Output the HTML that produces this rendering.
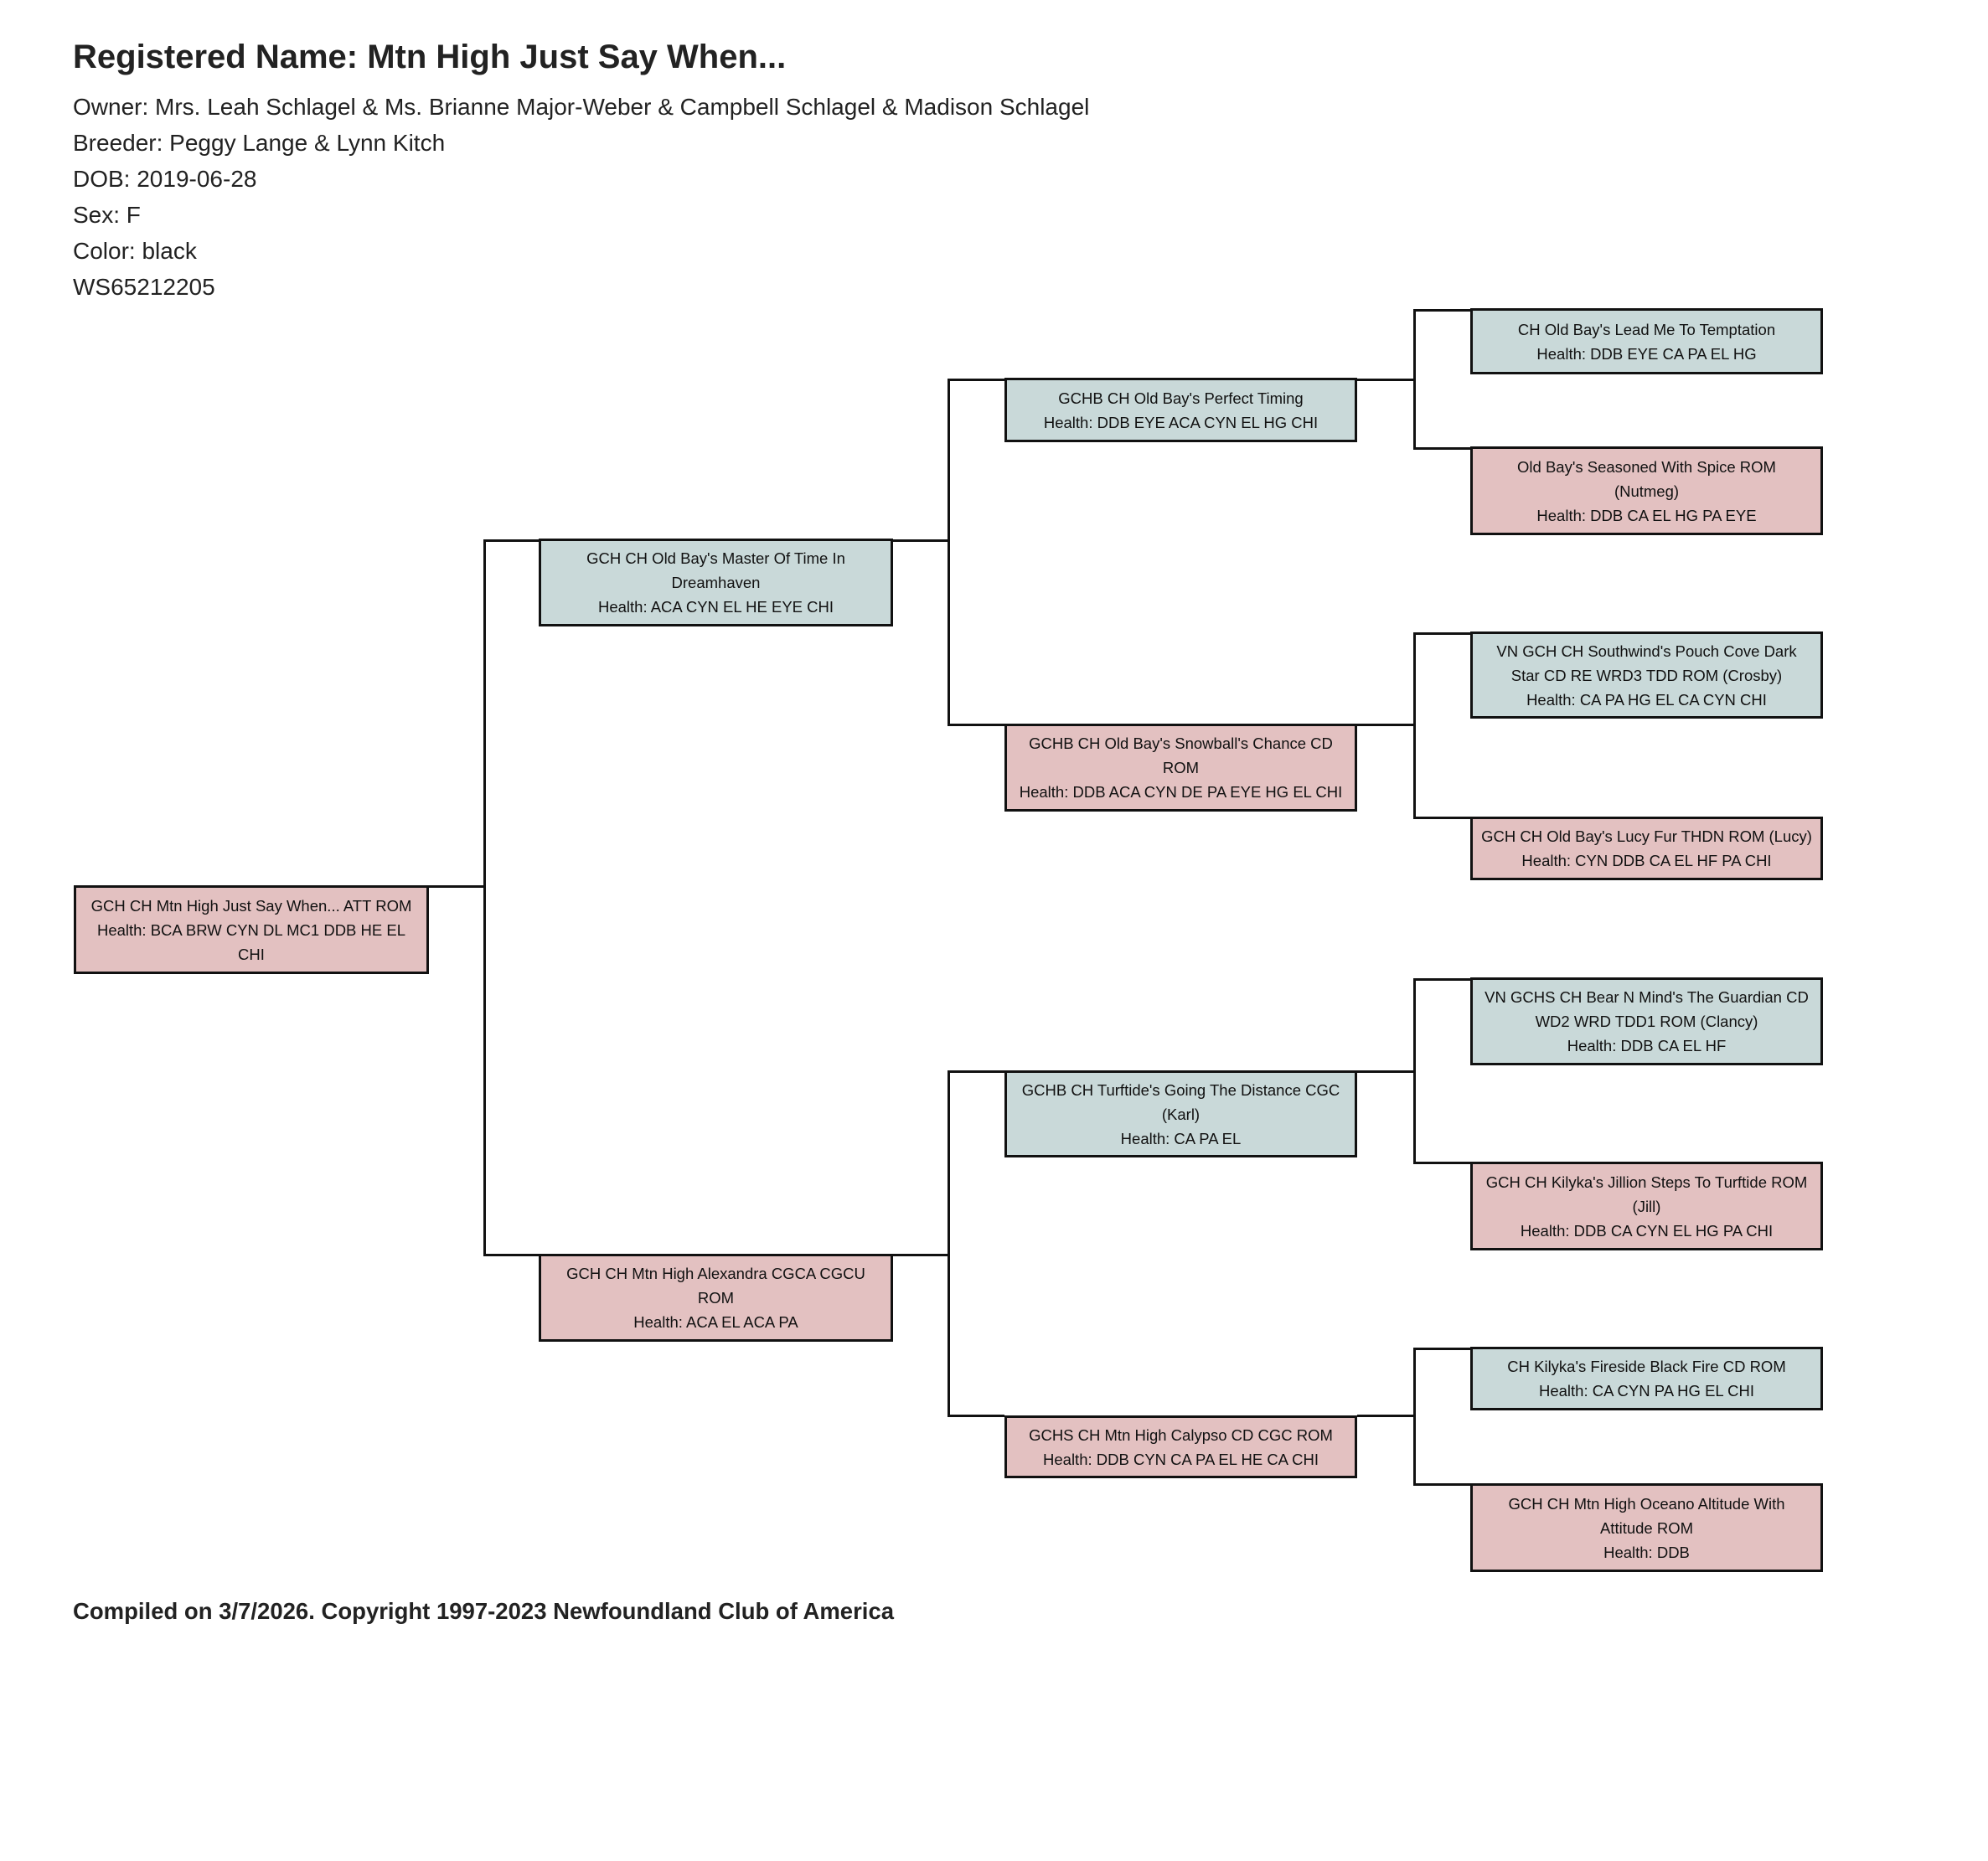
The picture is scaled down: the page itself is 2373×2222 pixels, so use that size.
<!DOCTYPE html>
<html><head><meta charset="utf-8"><style>
body{margin:0;width:2373px;height:2222px;background:#fff;position:relative;font-family:"Liberation Sans",sans-serif;color:#222;overflow:hidden}
.t{position:absolute;left:87px;white-space:nowrap}
.h{font-weight:bold;font-size:40px;top:46px}
.i{font-size:28px}
.b{position:absolute;box-sizing:border-box;border:3px solid #111;display:flex;align-items:center;justify-content:center;text-align:center;font-size:18.5px;line-height:29px;padding:0;white-space:nowrap;color:#111}
.m{background:#c9d9d9}.f{background:#e3c1c1}
.l{position:absolute;background:#111}
</style></head><body>
<div class="t h">Registered Name: Mtn High Just Say When...</div>
<div class="t i" style="top:112px">Owner: Mrs. Leah Schlagel &amp; Ms. Brianne Major-Weber &amp; Campbell Schlagel &amp; Madison Schlagel</div>
<div class="t i" style="top:155px">Breeder: Peggy Lange &amp; Lynn Kitch</div>
<div class="t i" style="top:198px">DOB: 2019-06-28</div>
<div class="t i" style="top:241px">Sex: F</div>
<div class="t i" style="top:284px">Color: black</div>
<div class="t i" style="top:327px">WS65212205</div>
<div class="t i" style="top:1908px;font-weight:bold;font-size:27.5px">Compiled on 3/7/2026. Copyright 1997-2023 Newfoundland Club of America</div>

<!-- connectors -->
<div class="l" style="left:512px;top:1057px;width:68px;height:3px"></div>
<div class="l" style="left:577px;top:644px;width:3px;height:855px"></div>
<div class="l" style="left:577px;top:644px;width:66px;height:3px"></div>
<div class="l" style="left:577px;top:1497px;width:66px;height:3px"></div>

<div class="l" style="left:1066px;top:644px;width:68px;height:3px"></div>
<div class="l" style="left:1066px;top:1497px;width:68px;height:3px"></div>
<div class="l" style="left:1131px;top:452px;width:3px;height:415px"></div>
<div class="l" style="left:1131px;top:1278px;width:3px;height:414px"></div>
<div class="l" style="left:1131px;top:452px;width:68px;height:3px"></div>
<div class="l" style="left:1131px;top:864px;width:68px;height:3px"></div>
<div class="l" style="left:1131px;top:1278px;width:68px;height:3px"></div>
<div class="l" style="left:1131px;top:1689px;width:68px;height:3px"></div>

<div class="l" style="left:1620px;top:452px;width:70px;height:3px"></div>
<div class="l" style="left:1620px;top:864px;width:70px;height:3px"></div>
<div class="l" style="left:1620px;top:1278px;width:70px;height:3px"></div>
<div class="l" style="left:1620px;top:1689px;width:70px;height:3px"></div>
<div class="l" style="left:1687px;top:369px;width:3px;height:168px"></div>
<div class="l" style="left:1687px;top:755px;width:3px;height:223px"></div>
<div class="l" style="left:1687px;top:1168px;width:3px;height:222px"></div>
<div class="l" style="left:1687px;top:1609px;width:3px;height:165px"></div>
<div class="l" style="left:1687px;top:369px;width:68px;height:3px"></div>
<div class="l" style="left:1687px;top:534px;width:68px;height:3px"></div>
<div class="l" style="left:1687px;top:755px;width:68px;height:3px"></div>
<div class="l" style="left:1687px;top:975px;width:68px;height:3px"></div>
<div class="l" style="left:1687px;top:1168px;width:68px;height:3px"></div>
<div class="l" style="left:1687px;top:1387px;width:68px;height:3px"></div>
<div class="l" style="left:1687px;top:1609px;width:68px;height:3px"></div>
<div class="l" style="left:1687px;top:1771px;width:68px;height:3px"></div>

<!-- boxes -->
<div class="b f" style="left:88px;top:1057px;width:424px;height:106px"><div>GCH CH Mtn High Just Say When... ATT ROM<br>Health: BCA BRW CYN DL MC1 DDB HE EL<br>CHI</div></div>

<div class="b m" style="left:643px;top:643px;width:423px;height:105px"><div>GCH CH Old Bay's Master Of Time In<br>Dreamhaven<br>Health: ACA CYN EL HE EYE CHI</div></div>
<div class="b f" style="left:643px;top:1497px;width:423px;height:105px"><div>GCH CH Mtn High Alexandra CGCA CGCU<br>ROM<br>Health: ACA EL ACA PA</div></div>

<div class="b m" style="left:1199px;top:451px;width:421px;height:77px"><div>GCHB CH Old Bay's Perfect Timing<br>Health: DDB EYE ACA CYN EL HG CHI</div></div>
<div class="b f" style="left:1199px;top:864px;width:421px;height:105px"><div>GCHB CH Old Bay's Snowball's Chance CD<br>ROM<br>Health: DDB ACA CYN DE PA EYE HG EL CHI</div></div>
<div class="b m" style="left:1199px;top:1278px;width:421px;height:104px"><div>GCHB CH Turftide's Going The Distance CGC<br>(Karl)<br>Health: CA PA EL</div></div>
<div class="b f" style="left:1199px;top:1690px;width:421px;height:75px"><div>GCHS CH Mtn High Calypso CD CGC ROM<br>Health: DDB CYN CA PA EL HE CA CHI</div></div>

<div class="b m" style="left:1755px;top:368px;width:421px;height:79px"><div>CH Old Bay's Lead Me To Temptation<br>Health: DDB EYE CA PA EL HG</div></div>
<div class="b f" style="left:1755px;top:533px;width:421px;height:106px"><div>Old Bay's Seasoned With Spice ROM<br>(Nutmeg)<br>Health: DDB CA EL HG PA EYE</div></div>
<div class="b m" style="left:1755px;top:754px;width:421px;height:104px"><div>VN GCH CH Southwind's Pouch Cove Dark<br>Star CD RE WRD3 TDD ROM (Crosby)<br>Health: CA PA HG EL CA CYN CHI</div></div>
<div class="b f" style="left:1755px;top:975px;width:421px;height:76px"><div>GCH CH Old Bay's Lucy Fur THDN ROM (Lucy)<br>Health: CYN DDB CA EL HF PA CHI</div></div>
<div class="b m" style="left:1755px;top:1167px;width:421px;height:105px"><div>VN GCHS CH Bear N Mind's The Guardian CD<br>WD2 WRD TDD1 ROM (Clancy)<br>Health: DDB CA EL HF</div></div>
<div class="b f" style="left:1755px;top:1387px;width:421px;height:106px"><div>GCH CH Kilyka's Jillion Steps To Turftide ROM<br>(Jill)<br>Health: DDB CA CYN EL HG PA CHI</div></div>
<div class="b m" style="left:1755px;top:1608px;width:421px;height:76px"><div>CH Kilyka's Fireside Black Fire CD ROM<br>Health: CA CYN PA HG EL CHI</div></div>
<div class="b f" style="left:1755px;top:1771px;width:421px;height:106px"><div>GCH CH Mtn High Oceano Altitude With<br>Attitude ROM<br>Health: DDB</div></div>
</body></html>
